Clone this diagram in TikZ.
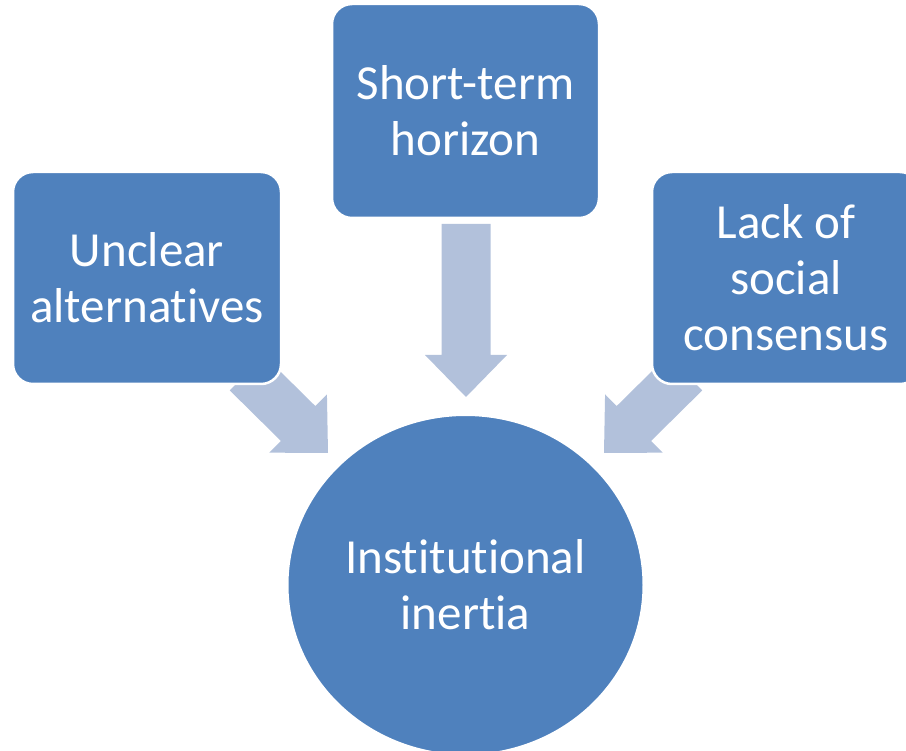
\documentclass[tikz,border=0pt]{standalone}
\usepackage{fontspec}
\setmainfont{Carlito}[Ligatures=NoCommon]
\usetikzlibrary{calc,shapes.geometric}
\definecolor{boxblue}{HTML}{4F81BD}
\definecolor{arrowblue}{HTML}{B2C1DB}
\tikzset{
  boxnode/.style={rectangle, rounded corners=20pt, fill=boxblue, draw=white, line width=2.5pt,
    text=white, align=center, font=\fontsize{49}{56}\selectfont, inner sep=0pt},
  circnode/.style={ellipse, fill=boxblue, draw=white, line width=2pt,
    text=white, align=center, font=\fontsize{49}{56}\selectfont, inner sep=0pt},
  blockarrow/.style={fill=arrowblue, draw=none}
}
\newcommand\blockarr[3]{% #1 tail, #2 tip, #3 name
  \coordinate (#3h) at ($(#2)!42pt!(#1)$);
  \fill[blockarrow] ($(#1)!24.5pt!90:(#2)$) -- ($(#3h)!24.5pt!-90:(#1)$) -- ($(#3h)!41pt!-90:(#1)$)
    -- (#2) -- ($(#3h)!41pt!90:(#1)$) -- ($(#3h)!24.5pt!90:(#1)$) -- ($(#1)!24.5pt!-90:(#2)$) -- cycle;
}
\begin{document}
\begin{tikzpicture}[x=1pt,y=-1pt]
\useasboundingbox (0,0) rectangle (906,751);
% arrow end points
\coordinate (ltail) at (247,373);
\coordinate (ltip) at (328,453);
\coordinate (ttail) at (466,224);
\coordinate (ttip) at (466,397);
\coordinate (rtail) at (685,373);
\coordinate (rtip) at (604,453);
\blockarr{ltail}{ltip}{la}
\blockarr{ttail}{ttip}{ta}
\blockarr{rtail}{rtip}{ra}
% nodes
\node[boxnode, minimum width=268pt, minimum height=212pt] (left) at (147,278) {Unclear\\alternatives};
\node[boxnode, minimum width=267pt, minimum height=214pt] (top) at (465.5,111) {Short-term\\horizon};
\node[boxnode, minimum width=268pt, minimum height=212pt] (right) at (786,278) {Lack of\\social\\consensus};
\node[circnode, minimum width=356pt, minimum height=340pt] (inertia) at (465.5,585) {Institutional\\inertia};
\end{tikzpicture}
\end{document}
